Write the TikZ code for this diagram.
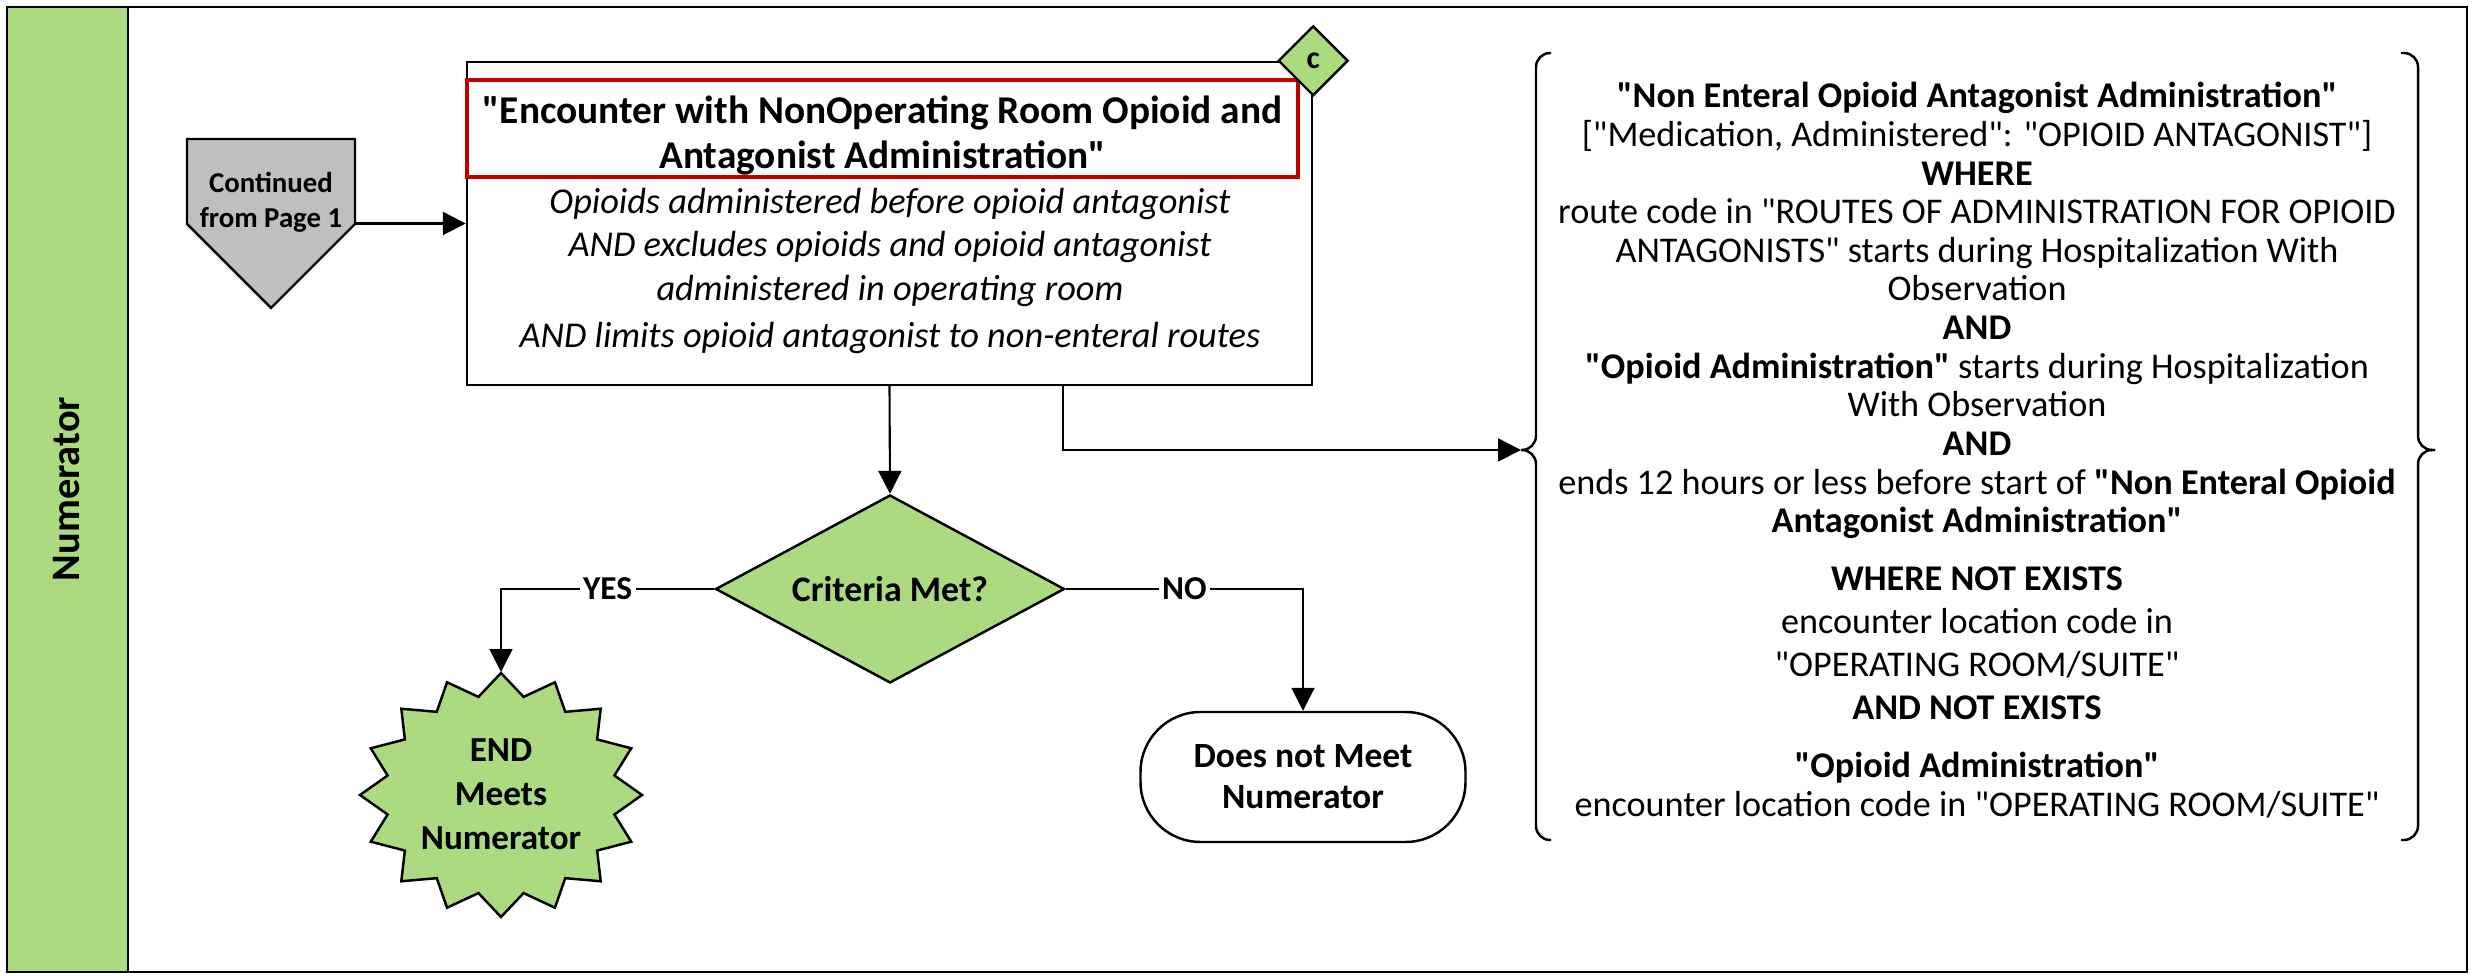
\documentclass[tikz,border=0pt]{standalone}
\usepackage{fontspec}
\setmainfont{Carlito}[Ligatures=TeXOff]
\usepackage{xcolor}
\usepackage{tikz}
\usetikzlibrary{shapes.geometric,arrows.meta}
\definecolor{lanegreen}{RGB}{172,218,128}
\definecolor{pagegray}{RGB}{191,191,191}
\definecolor{titlered}{RGB}{192,0,0}
\tikzstyle{lane} = [rectangle, draw=black, line width=0.8pt, fill=lanegreen]
\tikzstyle{process} = [rectangle, draw=black, line width=0.7pt, fill=white, minimum width=84.5mm, minimum height=32.3mm]
\tikzstyle{redframe} = [draw=titlered, line width=1.3pt]
\tikzstyle{titletext} = [align=center, font=\fontsize{11.2}{13}\selectfont\bfseries]
\tikzstyle{desctext} = [align=center, font=\fontsize{10.35}{12.4}\selectfont\itshape]
\tikzstyle{decision} = [diamond, aspect=1.86, draw=black, line width=0.7pt, fill=lanegreen, minimum width=34.9mm, minimum height=18.8mm, inner sep=0pt, font=\fontsize{10.2}{12}\selectfont\bfseries]
\tikzstyle{refmark} = [diamond, draw=black, line width=0.7pt, fill=lanegreen, minimum width=7mm, minimum height=7mm, inner sep=0pt, font=\fontsize{9}{10}\selectfont\bfseries]
\tikzstyle{terminal} = [rectangle, rounded corners=6mm, draw=black, line width=0.7pt, fill=white, minimum width=32.5mm, minimum height=13mm, align=center, font=\fontsize{10.1}{11.7}\selectfont\bfseries]
\tikzstyle{endtext} = [align=center, font=\fontsize{10}{12.5}\selectfont\bfseries]
\tikzstyle{pagetext} = [align=center, font=\fontsize{8.2}{10}\selectfont\bfseries]
\tikzstyle{branch} = [fill=white, inner sep=1pt, font=\fontsize{9.5}{11}\selectfont\bfseries]
\tikzstyle{annot} = [align=center, font=\fontsize{10.3}{11}\selectfont]
\tikzstyle{brace} = [line width=0.7pt, rounded corners=4pt]
\tikzstyle{arrow} = [line width=0.6pt, -{Triangle[length=6.5pt,width=6.5pt]}]

\begin{document}
\begin{tikzpicture}[x=0.1mm, y=-0.1mm]
\useasboundingbox (0,0) rectangle (2474,976);

	\draw[lane] (7,7) rectangle (128,972);
	\draw[line width=0.8pt] (7,7) rectangle (2467,972);
	\node[rotate=90, font=\fontsize{11.5}{13}\selectfont\bfseries] (lanename) at (67,489) {Numerator};

	\draw[line width=0.7pt, fill=pagegray] (187,139) -- (355,139) -- (355,224) -- (271,308) -- (187,224) -- cycle;
	\node[pagetext] (cont) at (271,202) {Continued\\from Page 1};
	\coordinate (contout) at (355,223.5);

	\node[process] (main) at (889.5,223.5) {};
	\draw[redframe] (467,80) rectangle (1298,177);
	\node[titletext] (encounter) at (882.5,135.5) {"Encounter with NonOperating Room Opioid and\\Antagonist Administration"};
	\node[desctext] (criteria) at (890,271) {Opioids administered before opioid antagonist\\AND excludes opioids and opioid antagonist\\administered in operating room\\[1pt]AND limits opioid antagonist to non-enteral routes};
	\node[refmark] (refc) at (main.north east) {c};

	\node[decision] (crit) at (890,589) {Criteria Met?};

	\draw[line width=0.7pt, fill=lanegreen] (501,673) \foreach \k in {1,...,31} { -- ({501+141*(0.91+0.09*cos(180*\k))*cos(90+11.25*\k)}, {795-122*(0.91+0.09*cos(180*\k))*sin(90+11.25*\k)}) } -- cycle;
	\node[endtext] (meets) at (501,794) {END\\Meets\\Numerator};
	\coordinate (meetstop) at (501,672);

	\node[terminal] (nomeet) at (1303,777) {Does not Meet\\Numerator};

	\node[annot] (annotation) at (1977,450) {\textbf{"Non Enteral Opioid Antagonist Administration"}\\
	{[}"Medication, Administered": "OPIOID ANTAGONIST"]\\
	\textbf{WHERE}\\
	route code in "ROUTES OF ADMINISTRATION FOR OPIOID\\
	ANTAGONISTS" starts during Hospitalization With\\
	Observation\\
	\textbf{AND}\\
	\textbf{"Opioid Administration"} starts during Hospitalization\\
	With Observation\\
	\textbf{AND}\\
	ends 12 hours or less before start of \textbf{"Non Enteral Opioid}\\
	\textbf{Antagonist Administration"}\\[5.5pt]
	\textbf{WHERE NOT EXISTS}\\[1.2pt]
	encounter location code in\\[1.2pt]
	"OPERATING ROOM/SUITE"\\[1.2pt]
	\textbf{AND NOT EXISTS}\\[5.5pt]
	\textbf{"Opioid Administration"}\\
	encounter location code in "OPERATING ROOM/SUITE"};
	\coordinate (bracetip) at (1521,450);

	\draw[brace] (1551,53) -- (1536,53) -- (1536,450) -- (bracetip);
	\draw[brace] (bracetip) -- (1536,450) -- (1536,840) -- (1551,840);
	\draw[brace] (2401,53) -- (2418,53) -- (2418,450) -- (2435,450);
	\draw[brace] (2435,450) -- (2418,450) -- (2418,840) -- (2401,840);

	\draw [arrow] (contout) -- (main.west);
	\draw [arrow] (main.south) -- (crit.north);
	\draw [arrow] (crit.west) -| node[branch, pos=0.25] {YES} (meetstop);
	\draw [arrow] (crit.east) -| node[branch, pos=0.25] {NO} (nomeet.north);
	\draw [arrow] ([xshift=17.35mm]main.south) |- (bracetip);

\end{tikzpicture}
\end{document}
